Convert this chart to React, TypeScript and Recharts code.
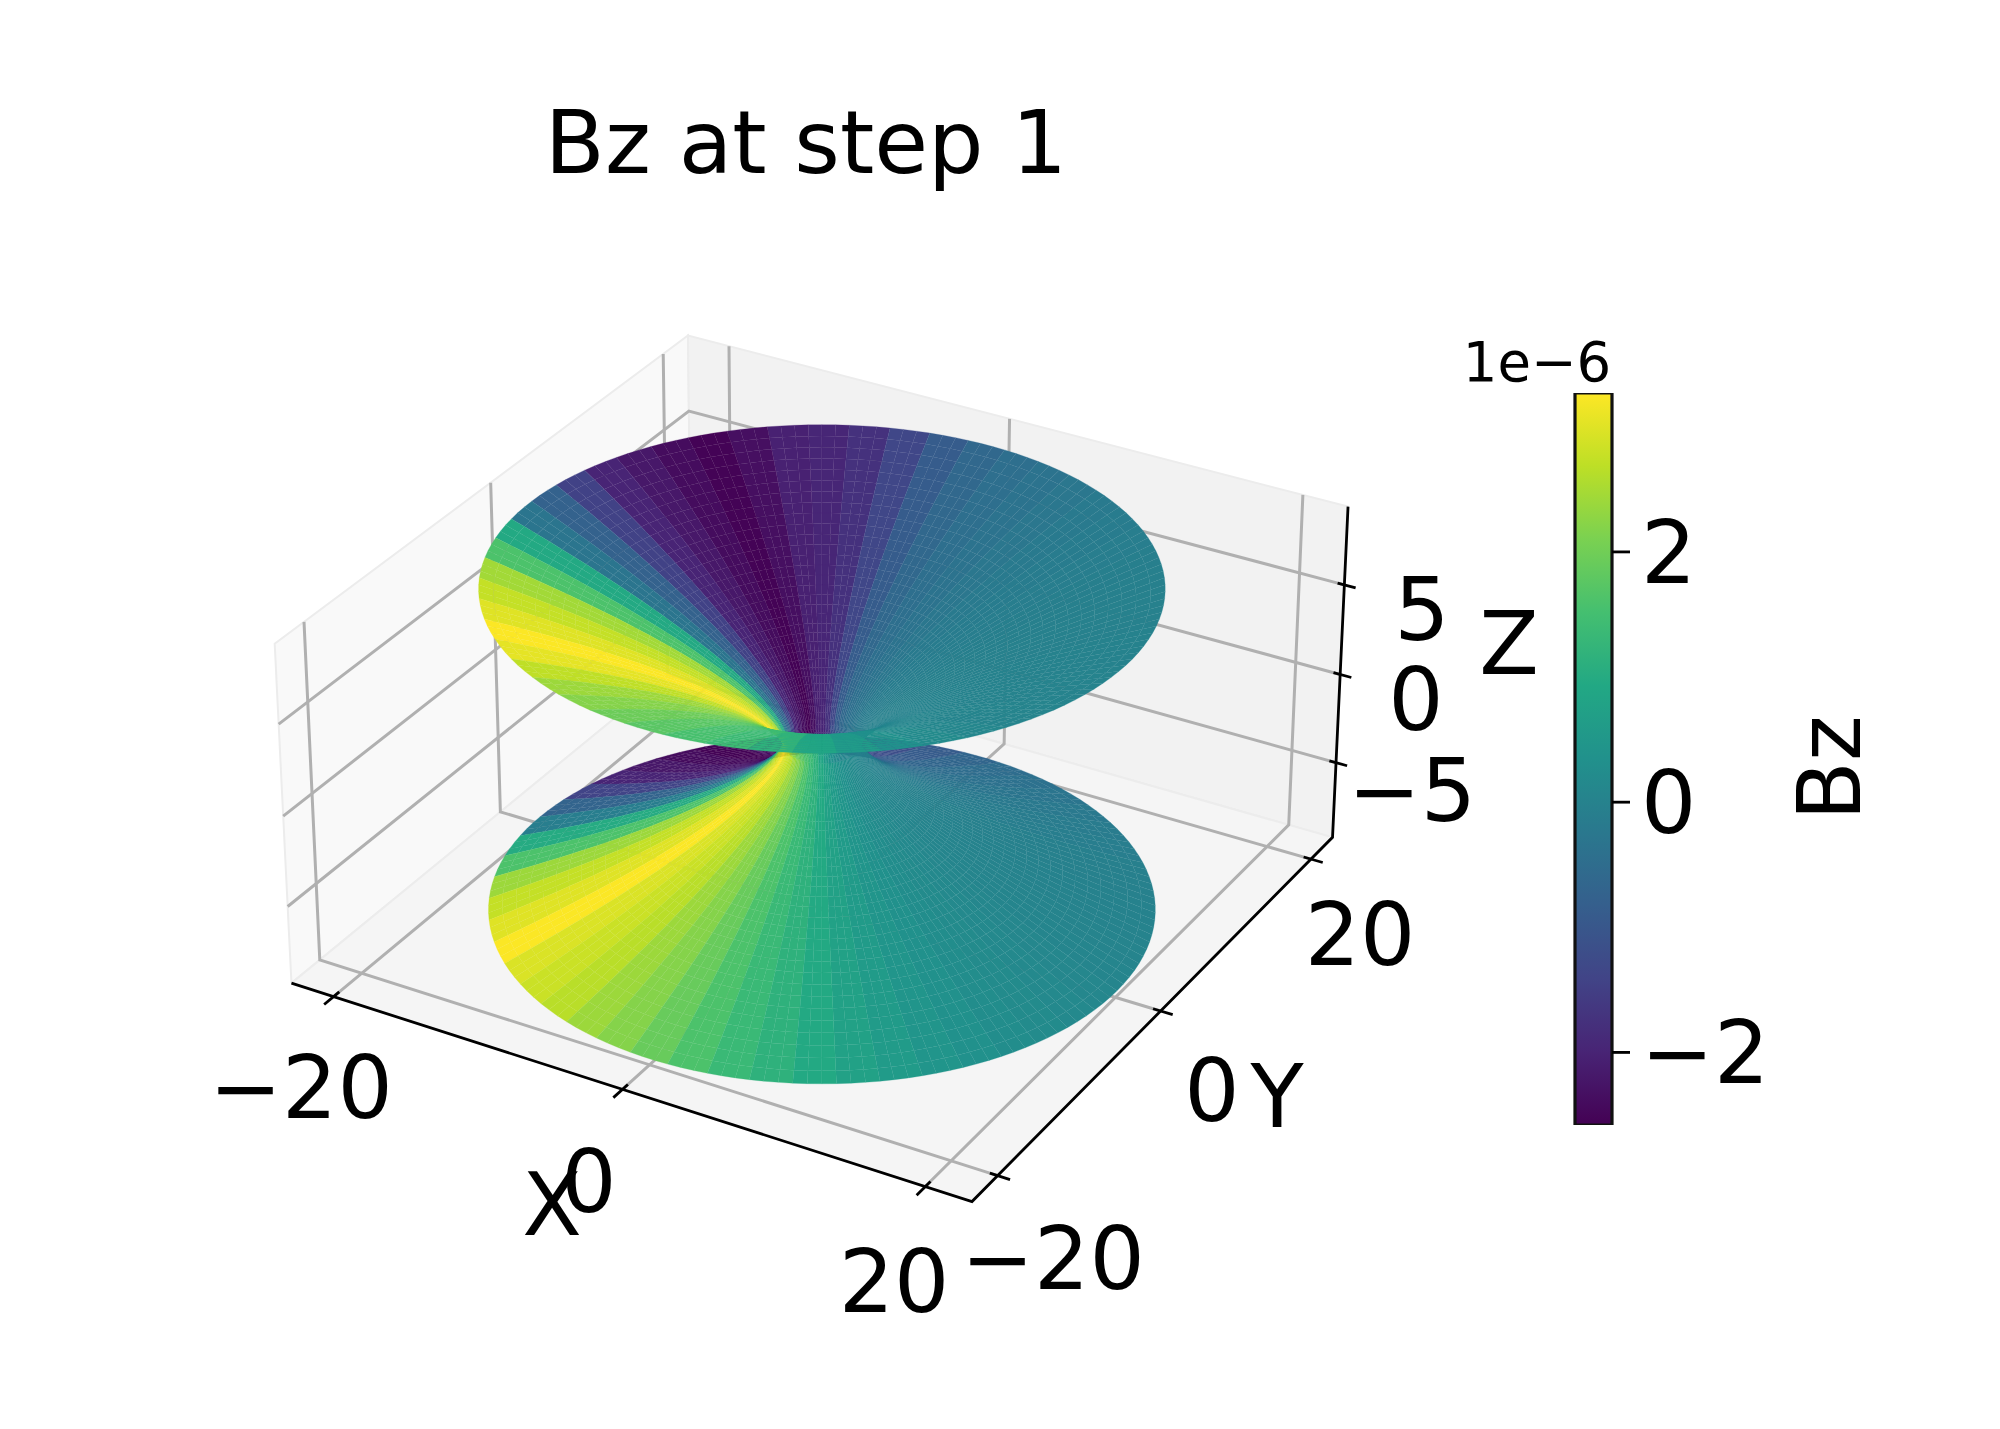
import React from 'react';
import { ScatterChart, Scatter, XAxis, YAxis, ComposedChart, Bar } from 'recharts';

const W = 2000;
const H = 1429;
const FONT = '"DejaVu Sans", sans-serif';

// Bz (in units of 1e-6) per azimuthal wedge, every 7.2 degrees
const upperBz = [
  0.0, -0.01, -0.02, -0.03, -0.05, -0.07, -0.1, -0.14, -0.2, -0.27,
  -0.35, -0.45, -0.62, -0.88, -1.35, -1.75, -1.95, -2.05, -2.35, -2.55,
  -2.4, -2.2, -2.0, -1.45, -0.75, -0.3, 0.95, 1.6, 2.45, 2.75,
  3.0, 3.25, 3.05, 2.7, 2.4, 2.2, 1.95, 1.75, 1.55, 1.4,
  1.15, 0.85, 0.6, 0.35, 0.2, 0.1, 0.05, 0.03, 0.02, 0.01,
];
const lowerBz = [
  0.06, 0.04, 0.02, 0.0, -0.02, -0.05, -0.1, -0.15, -0.22, -0.3,
  -0.4, -0.5, -0.65, -0.9, -1.2, -1.75, -1.95, -2.05, -2.35, -2.55,
  -2.4, -2.2, -2.0, -1.4, -0.7, -0.1, 1.0, 1.6, 2.4, 2.75,
  3.0, 3.25, 2.95, 2.8, 2.65, 2.4, 2.2, 1.9, 1.6, 1.35,
  1.15, 0.95, 0.75, 0.6, 0.45, 0.35, 0.25, 0.2, 0.15, 0.1,
];
const xTicks = [-20, 0, 20];
const yTicks = [-20, 0, 20];
const zTicks = [-5, 0, 5];
const barTicks = [-2, 0, 2];
const barDomain: [number, number] = [-2.58, 3.27];
const viridis = ['#440154', '#482475', '#414487', '#355f8d', '#2a788e', '#21918c', '#22a884', '#44bf70', '#7ad151', '#bddf26', '#fde725'];

const labels = [
  { x: 806, y: 143, text: 'Bz at step 1', size: 87.5 },
  { x: 301, y: 1088, text: '\u221220', size: 87 },
  { x: 589, y: 1182, text: '0', size: 87 },
  { x: 894, y: 1282, text: '20', size: 87 },
  { x: 552, y: 1205, text: 'X', size: 87 },
  { x: 1053, y: 1259, text: '\u221220', size: 87 },
  { x: 1212, y: 1091, text: '0', size: 87 },
  { x: 1360, y: 935, text: '20', size: 87 },
  { x: 1277, y: 1097, text: 'Y', size: 87 },
  { x: 1422, y: 610, text: '5', size: 87 },
  { x: 1416, y: 700, text: '0', size: 87 },
  { x: 1412, y: 791, text: '\u22125', size: 87 },
  { x: 1509, y: 644, text: 'Z', size: 87 },
  { x: 1537, y: 362, text: '1e\u22126', size: 54.5 },
  { x: 1830, y: 768, text: 'Bz', size: 87, rotate: -90 },
];

// Camera of the 3D view
const EL_A = 0.61;
const EL_C = 0.305;
const SPAN_XY = 23;
const SPAN_Z = 9.3;
const FOCAL = 6340;
const CX = 821.9;
const CY = 743.9;

const project = (x: number, y: number, z: number) => {
  const X = (EL_A * x) / SPAN_XY;
  const Y = (EL_A * y) / SPAN_XY;
  const Z = (EL_C * z) / SPAN_Z;
  const u = 0.866 * X + 0.5 * Y;
  const v = -0.25 * X + 0.433 * Y + 0.866 * Z;
  const w = 0.433 * X - 0.75 * Y + 0.5 * Z;
  const depth = 10 - w;
  return { x: CX + (FOCAL * u) / depth, y: CY - (FOCAL * v) / depth, depth };
};

const viridisAt = (bz: number) => {
  const t = Math.min(1, Math.max(0, (bz - barDomain[0]) / (barDomain[1] - barDomain[0])));
  const p = t * (viridis.length - 1);
  const i = Math.min(viridis.length - 2, Math.floor(p));
  const f = p - i;
  const a = viridis[i];
  const b = viridis[i + 1];
  const ch = (s: string, n: number) => parseInt(s.slice(1 + n * 2, 3 + n * 2), 16);
  const c = [0, 1, 2].map((n) => Math.round(ch(a, n) + (ch(b, n) - ch(a, n)) * f));
  return `rgb(${c[0]},${c[1]},${c[2]})`;
};

// Funnel surface
const RINGS = 32;
const SUBSTEPS = 3;
const THROAT = 2.3;
const RIM_R = 20.1;
const RIM_Z = 8.9;
const PROFILE = 0.65;
const ringRadius = (z: number) => THROAT + (RIM_R - THROAT) * (z / RIM_Z) ** (1 / PROFILE);

type Quad = { fill: string; depth: number; pts: { x: number; y: number }[] };
const quads: Quad[] = [];
[
  { sign: 1, vals: upperBz },
  { sign: -1, vals: lowerBz },
].forEach(({ sign, vals }) => {
  vals.forEach((bz, k) => {
    for (let s = 0; s < SUBSTEPS; s++) {
      const t0 = ((k + s / SUBSTEPS) * 7.2 * Math.PI) / 180;
      const t1 = ((k + (s + 1) / SUBSTEPS) * 7.2 * Math.PI) / 180;
      for (let j = 0; j < RINGS; j++) {
        const z0 = (RIM_Z * j) / RINGS;
        const z1 = (RIM_Z * (j + 1)) / RINGS;
        const r0 = ringRadius(z0);
        const r1 = ringRadius(z1);
        const c = [
          project(r0 * Math.cos(t0), r0 * Math.sin(t0), sign * z0),
          project(r0 * Math.cos(t1), r0 * Math.sin(t1), sign * z0),
          project(r1 * Math.cos(t1), r1 * Math.sin(t1), sign * z1),
          project(r1 * Math.cos(t0), r1 * Math.sin(t0), sign * z1),
        ];
        quads.push({
          fill: viridisAt(bz),
          depth: (c[0].depth + c[1].depth + c[2].depth + c[3].depth) / 4,
          pts: c.map((p) => ({ x: p.x, y: p.y })),
        });
      }
    }
  });
});
quads.sort((a, b) => b.depth - a.depth);
const meshPoints = quads.flatMap((q) => q.pts);
const meshFills = quads.map((q) => q.fill);

const drawMesh = (p: any) => {
  const out: React.ReactNode[] = [];
  const pts = p.points as { x: number; y: number }[];
  for (let i = 0; i + 3 < pts.length; i += 4) {
    const s = `${pts[i].x.toFixed(2)},${pts[i].y.toFixed(2)} ${pts[i + 1].x.toFixed(2)},${pts[i + 1].y.toFixed(2)} ${pts[i + 2].x.toFixed(2)},${pts[i + 2].y.toFixed(2)} ${pts[i + 3].x.toFixed(2)},${pts[i + 3].y.toFixed(2)}`;
    out.push(<polygon key={i} points={s} fill={meshFills[i / 4]} stroke={meshFills[i / 4]} strokeWidth={0.25} />);
  }
  return <g>{out}</g>;
};

// Box
const xa = SPAN_XY;
const za = SPAN_Z;
const P = (x: number, y: number, z: number) => {
  const q = project(x, y, z);
  return { x: q.x, y: q.y };
};
const panes = [
  { fill: '#f9f9f9', pts: [P(-xa, -xa, -za), P(-xa, xa, -za), P(-xa, xa, za), P(-xa, -xa, za), P(-xa, -xa, -za)] },
  { fill: '#f2f2f2', pts: [P(-xa, xa, -za), P(xa, xa, -za), P(xa, xa, za), P(-xa, xa, za), P(-xa, xa, -za)] },
  { fill: '#f5f5f5', pts: [P(-xa, -xa, -za), P(xa, -xa, -za), P(xa, xa, -za), P(-xa, xa, -za), P(-xa, -xa, -za)] },
];
const gridLines = [
  ...xTicks.map((v) => [P(v, -xa, -za), P(v, xa, -za), P(v, xa, za)]),
  ...yTicks.map((v) => [P(xa, v, -za), P(-xa, v, -za), P(-xa, v, za)]),
  ...zTicks.map((v) => [P(-xa, -xa, v), P(-xa, xa, v), P(xa, xa, v)]),
];
const axisLines = [
  [P(-xa, -xa, -za), P(xa, -xa, -za), P(xa, xa, -za), P(xa, xa, za)],
  ...xTicks.map((v) => [P(v, -xa + 0.6, -za), P(v, -xa - 1.0, -za)]),
  ...yTicks.map((v) => [P(xa - 0.5, v, -za), P(xa + 0.8, v, -za)]),
  ...zTicks.map((v) => [P(xa - 0.45, xa, v), P(xa + 0.75, xa, v)]),
];

const noShape = () => null;
const textShape = (p: any) => {
  const d = p.payload;
  return (
    <text
      x={p.cx}
      y={p.cy}
      textAnchor="middle"
      dominantBaseline="central"
      fontFamily={FONT}
      fontSize={d.size}
      fill="#000"
      transform={d.rotate ? `rotate(${d.rotate} ${p.cx} ${p.cy})` : undefined}
    >
      {d.text}
    </text>
  );
};

const barData = [{ name: 'Bz', range: barDomain }];

export default function App() {
  return (
    <div style={{ position: 'absolute', left: 0, top: 0, width: W, height: H, background: '#fff' }}>
      <div style={{ position: 'absolute', left: 0, top: 0 }}>
        <ScatterChart width={W} height={H} margin={{ top: 0, right: 0, bottom: 0, left: 0 }}>
          <XAxis type="number" dataKey="x" domain={[0, W]} hide />
          <YAxis type="number" dataKey="y" domain={[0, H]} reversed hide />
          {panes.map((p, i) => (
            <Scatter key={`pane${i}`} data={p.pts} isAnimationActive={false} shape={noShape} line={{ fill: p.fill, stroke: '#ececec', strokeWidth: 2 }} />
          ))}
          {gridLines.map((l, i) => (
            <Scatter key={`grid${i}`} data={l} isAnimationActive={false} shape={noShape} line={{ stroke: '#b0b0b0', strokeWidth: 3 }} />
          ))}
          <Scatter data={meshPoints} isAnimationActive={false} shape={noShape} line={drawMesh as any} />
          {axisLines.map((l, i) => (
            <Scatter key={`axis${i}`} data={l} isAnimationActive={false} shape={noShape} line={{ stroke: '#000', strokeWidth: 2.8 }} />
          ))}
          <Scatter data={labels} isAnimationActive={false} shape={textShape} />
        </ScatterChart>
      </div>
      <div style={{ position: 'absolute', left: 0, top: 0 }}>
        <ComposedChart width={W} height={H} data={barData} margin={{ top: 393, right: 0, bottom: 304, left: 1575 }} barCategoryGap={0}>
          <defs>
            <linearGradient id="viridisBar" x1="0" y1="1" x2="0" y2="0">
              {viridis.map((c, i) => (
                <stop key={c} offset={i / (viridis.length - 1)} stopColor={c} />
              ))}
            </linearGradient>
          </defs>
          <XAxis dataKey="name" hide />
          <YAxis
            orientation="right"
            type="number"
            domain={barDomain}
            ticks={barTicks}
            width={388}
            axisLine={false}
            tickLine={{ stroke: '#000', strokeWidth: 2.8 }}
            tickSize={18}
            tickMargin={11}
            tick={{ fontFamily: FONT, fontSize: 87, fill: '#000' }}
            tickFormatter={(v: number) => (v < 0 ? `\u2212${-v}` : `${v}`)}
            allowDataOverflow
          />
          <Bar dataKey="range" fill="url(#viridisBar)" stroke="#111" strokeWidth={3.2} isAnimationActive={false} />
        </ComposedChart>
      </div>
    </div>
  );
}
